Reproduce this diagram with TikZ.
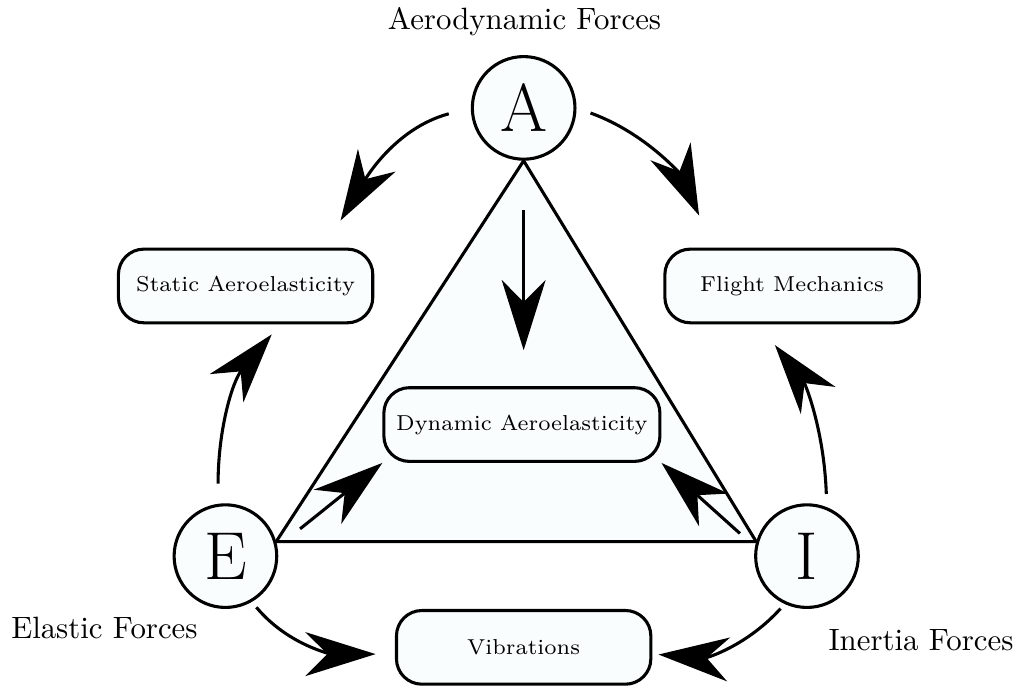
\documentclass[tikz,border=0pt]{standalone}
\usepackage{tikz}
\usetikzlibrary{arrows.meta, positioning, backgrounds}
\definecolor{palecyan}{RGB}{250,253,253}

\begin{document}
\begin{tikzpicture}[
        forcenode/.style={circle, draw=black, fill=palecyan, minimum size=1.17cm, inner sep=0pt, font=\fontsize{22}{26}\selectfont},
        fieldnode/.style={rectangle, rounded corners=0.29cm, draw=black, fill=palecyan, minimum width=2.9cm, minimum height=0.84cm, inner sep=4pt, font=\scriptsize},
        ->,>={Stealth[length=0.8cm,width=0.5cm,inset=0.25cm]},line width=1pt]
    \useasboundingbox (-5.88,-1.53) rectangle (5.76,6.34);
            % the three forces
            \node[forcenode] (aero) at (0.09,5.11) {A};
            \node[forcenode] (elastic) at (-3.31,0) {E};
            \node[forcenode] (inertia) at (3.32,0) {I};
            \node (aerolabel) at (0.10,6.09) {Aerodynamic Forces};
            \node (elasticlabel) at (-4.69,-0.82) {Elastic Forces};
            \node (inertialabel) at (4.62,-0.96) {Inertia Forces};
            % the fields
            \node[fieldnode] (static) at (-3.08,3.08) {Static Aeroelasticity};
            \node[fieldnode] (flight) at (3.15,3.08) {Flight Mechanics};
            \node[fieldnode] (dynamic) at (0.07,1.50) {Dynamic Aeroelasticity};
            \node[fieldnode] (vib) at (0.09,-1.04) {Vibrations};

            \begin{scope}[on background layer]
              \draw[-, line width=1pt, fill=palecyan] (aero.south) -- (elastic.16) -- (inertia.164) -- cycle;
            \end{scope}

            \draw[shorten <=0.26cm, shorten >=0.36cm] (aero.west) to[out=195,in=59] (static.26);
            \draw[shorten <=0.17cm, shorten >=0.40cm] (aero.east) to[out=-20,in=114] (flight.154);
            \draw[shorten <=0.56cm, shorten >=0.41cm] (aero.south) -- (aero.south |- dynamic.north);
            \draw[shorten <=0.23cm, shorten >=0.15cm] (elastic.98) to[out=90,in=230] (static.-48);
            \draw[shorten <=0.15cm, shorten >=0.30cm] (inertia.68) to[out=92,in=-52] (flight.-131);
            \draw[shorten <=0.33cm] (elastic.10) -- (dynamic.south west);
            \draw[shorten <=0.23cm] (inertia.170) -- (dynamic.south east);
            \draw[shorten <=0.08cm, shorten >=0.22cm] (elastic.-60) to[out=-50,in=180] (vib.183);
            \draw[shorten <=0.07cm, shorten >=0.07cm] (inertia.-115) to[out=-132,in=-4] (vib.-3);
        \end{tikzpicture}
\end{document}
